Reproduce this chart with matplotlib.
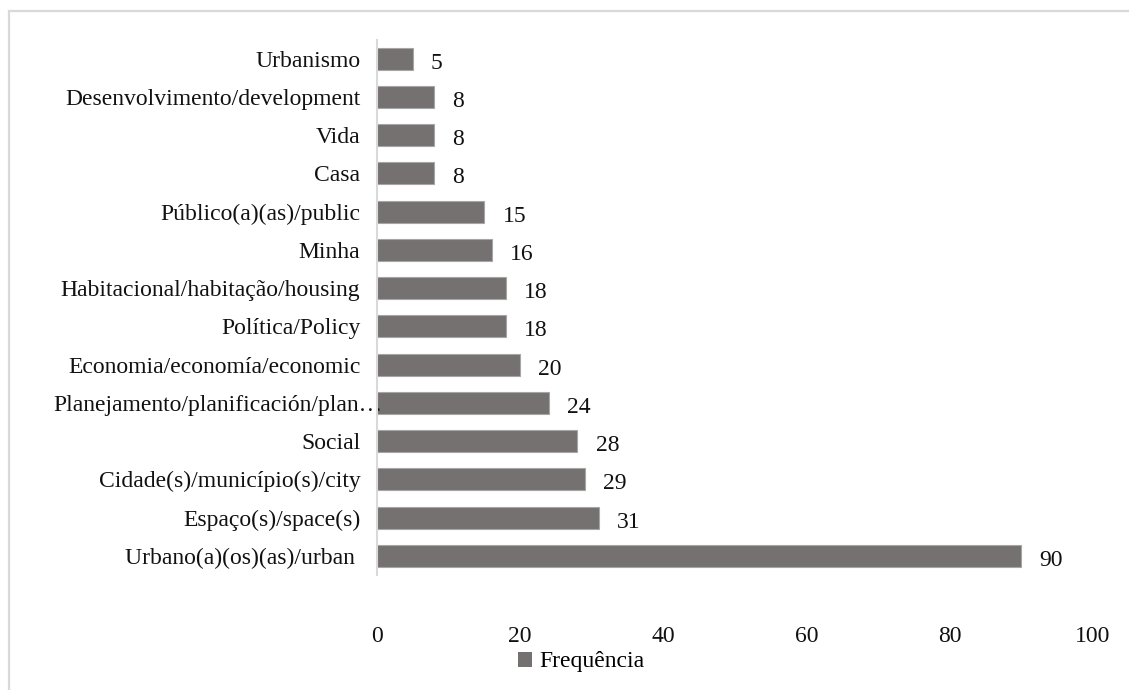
import matplotlib
matplotlib.use("Agg")
import matplotlib.pyplot as plt
from matplotlib.patches import Patch, Rectangle
from matplotlib.transforms import ScaledTranslation

# Keyword frequencies, bottom bar first
termos = ["Urbano(a)(os)(as)/urban ", "Espaço(s)/space(s)", "Cidade(s)/município(s)/city",
          "Social", "Planejamento/planificación/plan…", "Economia/economía/economic",
          "Política/Policy", "Habitacional/habitação/housing", "Minha", "Público(a)(as)/public",
          "Casa", "Vida", "Desenvolvimento/development", "Urbanismo"]
frequencia = [90, 31, 29, 28, 24, 20, 18, 18, 16, 15, 8, 8, 8, 5]
xticks = [0, 20, 40, 60, 80, 100]

bar_color = "#767171"
grid_color = "#d9d9d9"
fs = 17

plt.rcParams["font.family"] = ["Liberation Serif", "DejaVu Serif"]

fig = plt.figure(figsize=(11.29, 6.90), dpi=100)
ax = fig.add_axes([377 / 1129, 1 - 575 / 690, 716 / 1129, 535.5 / 690])

pos = list(range(len(termos)))
ax.barh(pos, frequencia, height=0.58, color=bar_color, edgecolor="#a6a6a6", linewidth=0.8)

for p, v in zip(pos, frequencia):
    ax.annotate(str(v), (v, p), xytext=(13, -1.5), textcoords="offset points",
                va="center_baseline", ha="left", fontsize=fs, color="#111111")

ax.set_xlim(0, 100)
ax.set_ylim(-0.5, len(termos) - 0.5)
ax.set_xticks(xticks)
ax.set_xticklabels([str(t) for t in xticks], fontsize=fs, color="#111111")
ax.set_yticks(pos)
ylabels = ax.set_yticklabels(termos, fontsize=fs, color="#111111", va="center_baseline")
ax.tick_params(axis="x", length=0, pad=37)
ax.tick_params(axis="y", length=0, pad=12)

# the truncated label spills over the axis line, like in the original
for lab in ylabels:
    if lab.get_text().endswith("…"):
        lab.set_transform(lab.get_transform() + ScaledTranslation(0.22, 0, fig.dpi_scale_trans))

for s in ["top", "right", "bottom"]:
    ax.spines[s].set_visible(False)
ax.spines["left"].set_color(grid_color)
ax.spines["left"].set_linewidth(1.5)

# outer chart-area border (light gray), running off the right/bottom edges
fig.patches.append(Rectangle((9 / 1129, -0.05), 1.2, 1 - 11 / 690 + 0.05,
                             transform=fig.transFigure, fill=False,
                             edgecolor=grid_color, linewidth=1.6))

fig.legend(handles=[Patch(facecolor=bar_color, label="Frequência")],
           loc="center", bbox_to_anchor=(581 / 1129, 1 - 662 / 690),
           frameon=False, fontsize=fs, handlelength=0.6, handleheight=0.6,
           handletextpad=0.3)

fig.savefig("out.png", dpi=100)
